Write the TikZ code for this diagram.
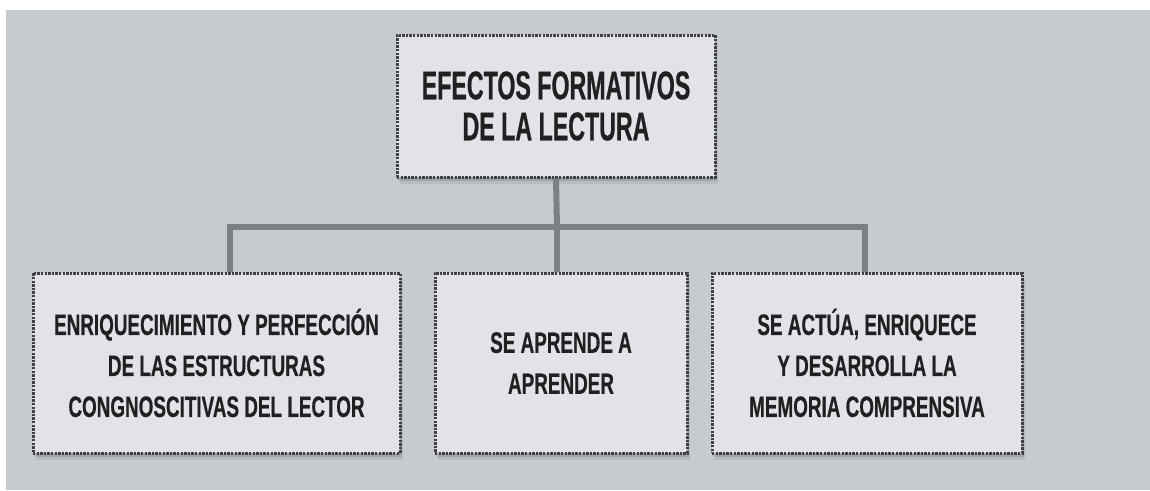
\documentclass[tikz,border=0pt]{standalone}
\usepackage{fontspec}
\setmainfont{Liberation Sans}
\newfontfamily\topfont[FakeStretch=0.58,FakeBold=0.6]{Liberation Sans Bold}
\newfontfamily\boxfont[FakeStretch=0.64,FakeBold=0.5]{Liberation Sans Bold}
\definecolor{bgc}{HTML}{C8CBCE}
\definecolor{boxc}{HTML}{E1E3E7}
\definecolor{dotc}{HTML}{3E4044}
\definecolor{linec}{HTML}{7C8085}
\definecolor{txtc}{HTML}{202022}
\tikzset{
  box/.style={draw=dotc, fill=boxc, line width=3pt, dash pattern=on 2.4pt off 1.2pt,
    inner sep=0pt, align=center, text=txtc,
    preaction={fill=black, opacity=0.07, transform canvas={xshift=3pt,yshift=-7pt}},
    preaction={fill=black, opacity=0.12, transform canvas={xshift=1.5pt,yshift=-3.5pt}}},
  conn/.style={draw=linec, line width=6pt},
}
\begin{document}
\begin{tikzpicture}[x=1pt,y=-1pt]
\useasboundingbox (0,0) rectangle (1150,490);
\fill[white] (0,0) rectangle (1150,490);
\fill[bgc] (6,10) rectangle (1150,490);
\coordinate (j) at (557,227);
\coordinate (jl) at (230,227);
\coordinate (jr) at (865,227);
\node[box, minimum width=318pt, minimum height=142pt,
  font=\topfont\fontsize{40}{41}\selectfont] (top) at (556,106)
  {EFECTOS FORMATIVOS\\DE LA LECTURA};
\node[box, minimum width=367pt, minimum height=180pt,
  font=\boxfont\fontsize{29.5}{41}\selectfont] (left) at (216.5,363)
  {ENRIQUECIMIENTO Y PERFECCIÓN\\DE LAS ESTRUCTURAS\\CONGNOSCITIVAS DEL LECTOR};
\node[box, minimum width=252pt, minimum height=180pt,
  font=\boxfont\fontsize{29.5}{41}\selectfont] (mid) at (561,363)
  {SE APRENDE A\\APRENDER};
\node[box, minimum width=310pt, minimum height=180pt,
  font=\boxfont\fontsize{29.5}{41}\selectfont] (right) at (867,363)
  {SE ACTÚA, ENRIQUECE\\Y DESARROLLA LA\\MEMORIA COMPRENSIVA};
\draw[conn] (top.south) -- (j);
\draw[conn, line cap=rect] (jl) -- (jr);
\draw[conn] (jl) -- (jl |- left.north);
\draw[conn] (j) -- (j |- mid.north);
\draw[conn] (jr) -- (jr |- right.north);
\end{tikzpicture}
\end{document}
